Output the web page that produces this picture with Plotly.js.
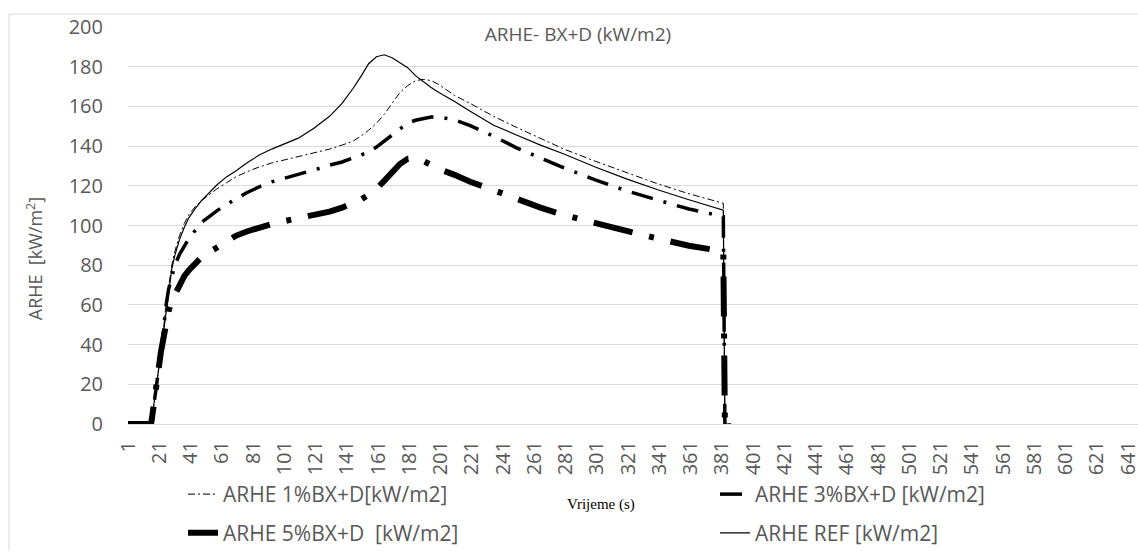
<!DOCTYPE html>
<html>
<head>
<meta charset="utf-8">
<script src="https://cdn.plot.ly/plotly-3.0.1.min.js"></script>
<style>
  html, body { margin: 0; padding: 0; background: #ffffff; }
  #chart { width: 1138px; height: 554px; }
</style>
</head>
<body>
<div id="chart"></div>
<script>
// ---- data ----
const time = [1, 15, 16, 17, 18, 19, 20, 21, 22, 23, 24, 25, 27, 29, 31, 34, 37, 40, 44, 48, 53, 58, 64, 70, 77, 85, 93, 101, 110, 120, 130, 138, 145, 150, 155, 160, 165, 170, 175, 180, 185, 190, 195, 200, 210, 220, 235, 250, 265, 280, 300, 320, 340, 360, 382, 383, 387];

const arhe1 = [0, 0, 1, 6, 12, 18, 24, 30, 36, 43, 50, 58, 70, 80, 87, 95, 101, 105.5, 109.5, 112.5, 115.5, 118.5, 121.5, 124.5, 127, 129.5, 131.5, 133, 135, 136.5, 138.5, 140.5, 142.5, 145, 148, 151.5, 156, 161.5, 167, 170.5, 173, 173.6, 173, 171, 165.5, 161.5, 155, 149.3, 143.7, 138.5, 132.4, 126.5, 121, 116, 111.2, 0, 0];

const arhe3 = [0, 0, 1, 6, 12, 18, 24, 30, 36, 42, 49, 58, 68, 74, 80, 85.5, 89.5, 93.5, 97.5, 101.5, 104.5, 107.5, 110.5, 113.5, 116.5, 119.5, 122, 123.8, 126, 128, 130.4, 132, 134, 135.5, 137, 139.5, 142.5, 145.5, 149, 151.6, 153, 154, 154.6, 154.6, 153.3, 150.3, 145, 139, 133.8, 129, 123, 117.5, 112.8, 108.3, 104.5, 0, 0];

const arhe5 = [0, 0, 1, 6, 12, 18, 24, 30, 36, 41, 46, 50, 57, 62, 65.5, 70.5, 74.5, 77.5, 81, 84, 86.5, 89, 92, 94.8, 97, 99, 100.8, 102.2, 103.6, 105, 107, 109, 111, 113, 115.5, 118.5, 122.5, 126.6, 131, 133.6, 134, 132.5, 130.5, 128.5, 125.5, 122, 117.8, 113.3, 109, 105.3, 101, 97.3, 93.4, 89.8, 87, 0, 0];

const arheRef = [0, 0, 1, 6, 12, 18, 24, 30, 36, 42, 49, 56, 68, 78, 85, 93, 99, 104, 108.5, 112.5, 116.5, 120.5, 124.5, 127.5, 131.5, 135.5, 138.5, 141, 144, 149, 155, 161.5, 169, 175, 181.5, 185, 186, 184.5, 182, 179.5, 175.5, 172.5, 169.5, 167, 162.5, 157.5, 150.5, 145.5, 140.5, 136, 129.5, 123.5, 118, 113, 107.7, 0, 0];

const seriesNames = ['ARHE 1%BX+D[kW/m2]', 'ARHE 3%BX+D [kW/m2]', 'ARHE 5%BX+D\u00a0 [kW/m2]', 'ARHE REF [kW/m2]'];
const chartTitle = 'ARHE- BX+D (kW/m2)';
const yTitle = 'ARHE\u00a0 [kW/m<sup>2</sup>]';
const xTitle = 'Vrijeme (s)';

// ---- styles ----
const grey = '#595959';
const font = 'Open Sans, Calibri, Arial, sans-serif';

const traces = [
  { x: time, y: arhe1, name: seriesNames[0], mode: 'lines', legend: 'legend',
    line: { color: '#000000', width: 1, dash: '7px,3px,2px,3px' } },
  { x: time, y: arhe3, name: seriesNames[1], mode: 'lines', legend: 'legend2',
    line: { color: '#000000', width: 3.5, dash: '22px,11px,3px,11px' } },
  { x: time, y: arhe5, name: seriesNames[2], mode: 'lines', legend: 'legend3',
    line: { color: '#000000', width: 6, dash: '40px,17px,5px,17px' } },
  { x: time, y: arheRef, name: seriesNames[3], mode: 'lines', legend: 'legend4',
    line: { color: '#000000', width: 1.2 } }
];

const plotL = 128, plotT = 27, plotW = 1010, plotH = 400;
const px2paperX = (px) => (px - plotL) / plotW;
const px2paperY = (py) => (plotT + plotH - py) / plotH;

const legendBase = {
  orientation: 'v', xanchor: 'left', yanchor: 'middle',
  bgcolor: 'rgba(0,0,0,0)', borderwidth: 0,
  font: { family: font, size: 21, color: grey }
};

const layout = {
  width: 1138, height: 554,
  margin: { l: plotL, r: 1138 - plotL - plotW, t: plotT, b: 554 - plotT - plotH, pad: 0 },
  paper_bgcolor: '#ffffff', plot_bgcolor: '#ffffff',
  showlegend: true,
  title: {
    text: chartTitle, xref: 'container', yref: 'container',
    x: 578 / 1138, xanchor: 'center', y: 1 - 34.5 / 554, yanchor: 'middle',
    font: { family: font, size: 19, color: grey }
  },
  xaxis: {
    range: [1, 1 + plotW / 1.5625], tickmode: 'linear', tick0: 1, dtick: 20,
    tickangle: -90, showgrid: false, zeroline: false, showline: false, ticks: '',
    ticklabelstandoff: 12, ticklabeloverflow: 'allow',
    tickfont: { family: font, size: 20, color: grey }
  },
  yaxis: {
    range: [0, 200], tickmode: 'linear', tick0: 0, dtick: 20,
    showgrid: true, gridcolor: '#d9d9d9', gridwidth: 1,
    zeroline: true, zerolinecolor: '#d9d9d9', zerolinewidth: 1,
    showline: false, ticks: '', ticklabelstandoff: 24,
    tickfont: { family: font, size: 20, color: grey }
  },
  legend:  Object.assign({}, legendBase, { x: px2paperX(183), y: px2paperY(498) }),
  legend2: Object.assign({}, legendBase, { x: px2paperX(715), y: px2paperY(498) }),
  legend3: Object.assign({}, legendBase, { x: px2paperX(183), y: px2paperY(537) }),
  legend4: Object.assign({}, legendBase, { x: px2paperX(715), y: px2paperY(537) }),
  annotations: [
    { text: yTitle, textangle: -90, xref: 'paper', yref: 'paper',
      x: px2paperX(35), y: px2paperY(261), xanchor: 'center', yanchor: 'middle',
      showarrow: false, font: { family: font, size: 18, color: grey } },
    { text: xTitle, xref: 'paper', yref: 'paper',
      x: px2paperX(601), y: px2paperY(508), xanchor: 'center', yanchor: 'middle',
      showarrow: false, font: { family: 'Liberation Serif, Times New Roman, serif', size: 15, color: '#000000' } }
  ],
  shapes: [
    { type: 'line', xref: 'paper', yref: 'paper', x0: px2paperX(9), x1: 1, y0: px2paperY(14), y1: px2paperY(14),
      line: { color: '#d9d9d9', width: 1 } },
    { type: 'line', xref: 'paper', yref: 'paper', x0: px2paperX(9), x1: px2paperX(9), y0: px2paperY(14), y1: px2paperY(554),
      line: { color: '#d9d9d9', width: 1 } }
  ]
};

Plotly.newPlot('chart', traces, layout, { displayModeBar: false, responsive: false });
</script>
</body>
</html>
